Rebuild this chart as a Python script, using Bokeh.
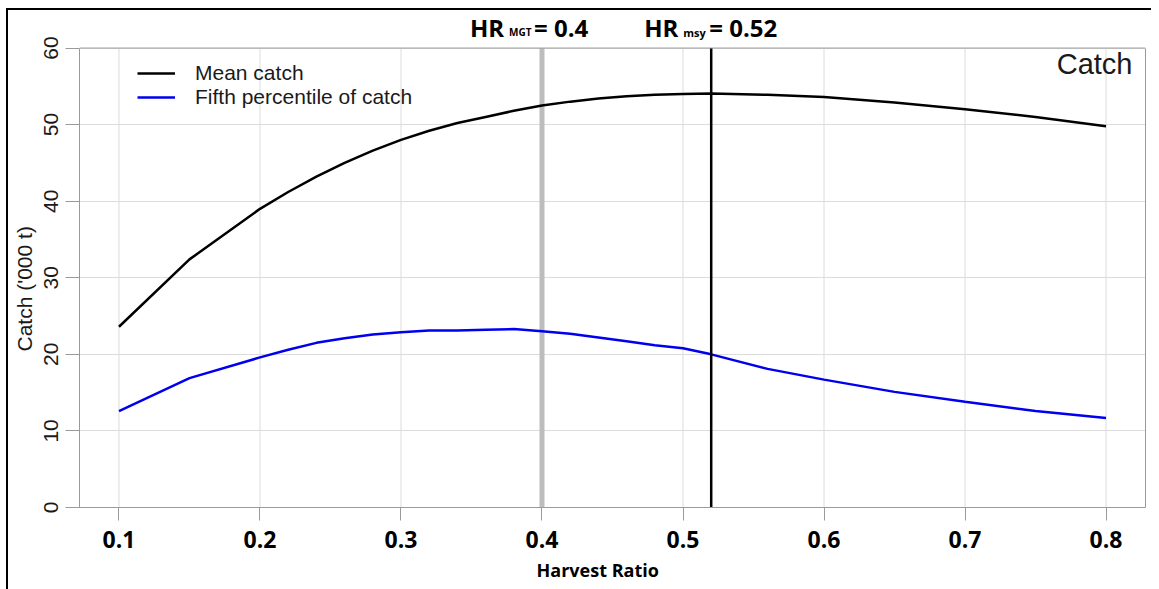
from bokeh.plotting import figure
from bokeh.models import Span, Label, Legend, LegendItem, FixedTicker, Range1d, LinearAxis, Title
from bokeh.embed import file_html
from bokeh.resources import INLINE

# ---- data ----
harvest_ratio = [0.10, 0.15, 0.20, 0.22, 0.24, 0.26, 0.28, 0.30, 0.32, 0.34, 0.36, 0.38,
                 0.40, 0.42, 0.44, 0.46, 0.48, 0.50, 0.52, 0.56, 0.60, 0.65, 0.70, 0.75, 0.80]
mean_catch = [23.6, 32.4, 39.0, 41.2, 43.2, 45.0, 46.6, 48.0, 49.2, 50.2, 51.0, 51.8,
              52.5, 53.0, 53.4, 53.7, 53.9, 54.0, 54.05, 53.9, 53.6, 52.9, 52.0, 51.0, 49.8]
fifth_pct_catch = [12.6, 16.9, 19.6, 20.6, 21.5, 22.1, 22.6, 22.9, 23.1, 23.1, 23.2, 23.3,
                   23.0, 22.7, 22.2, 21.7, 21.2, 20.8, 20.0, 18.1, 16.7, 15.1, 13.8, 12.6, 11.7]
x_ticks = [0.1, 0.2, 0.3, 0.4, 0.5, 0.6, 0.7, 0.8]
y_ticks = [0, 10, 20, 30, 40, 50, 60]
hr_mgt = 0.4
hr_msy = 0.52

# ---- layout constants (pixels) ----
W, H = 1151, 589
FRAME_L, FRAME_R, BOX_TOP, FRAME_B = 79, 1145, 48, 512
x_pad = 0.04 * (x_ticks[-1] - x_ticks[0])
y_lo, y_hi = y_ticks[0], y_ticks[-1]
# the frame reaches the canvas top so the annotations above the box are not clipped
y_top = y_lo + (y_hi - y_lo) * FRAME_B / (FRAME_B - BOX_TOP)

SANS = "Liberation Sans"
BOLD = "Open Sans"
GRAY = "#9a9a9a"
GRID = "#dcdcdc"
TXT = "#1a1a1a"

p = figure(width=W, height=H, output_backend="svg", toolbar_location=None,
           x_range=Range1d(x_ticks[0] - x_pad, x_ticks[-1] + x_pad),
           y_range=Range1d(y_lo, y_top),
           min_border_left=FRAME_L, min_border_right=W - FRAME_R,
           min_border_top=0, min_border_bottom=H - FRAME_B,
           background_fill_color=None, border_fill_color=None)
p.outline_line_color = None
p.styles = {
    "background-image": "linear-gradient(#000, #000), linear-gradient(#000, #000)",
    "background-size": "2px 100%, 100% 2px",
    "background-position": "6px 8px, 6px 8px",
    "background-repeat": "no-repeat",
}

# grid: horizontal lines from the grid model, vertical lines limited to the box
p.xgrid.visible = False
p.ygrid.ticker = FixedTicker(ticks=y_ticks)
p.ygrid.grid_line_color = GRID
p.segment(x0=x_ticks, y0=[y_lo] * len(x_ticks), x1=x_ticks, y1=[y_hi] * len(x_ticks),
          line_color=GRID, line_width=1)

# axes
p.xaxis.ticker = FixedTicker(ticks=x_ticks)
p.xaxis.major_tick_out = 13
p.xaxis.major_label_standoff = 10
p.xaxis.major_label_text_font = BOLD
p.xaxis.major_label_text_font_style = "bold"
p.xaxis.major_label_text_font_size = "23px"
p.xaxis.major_label_text_color = "black"

p.yaxis.ticker = FixedTicker(ticks=y_ticks)
p.yaxis.bounds = (y_lo, y_hi)
p.yaxis.major_tick_out = 14
p.yaxis.major_label_standoff = 8
p.yaxis.major_label_orientation = "vertical"
p.yaxis.major_label_text_font = SANS
p.yaxis.major_label_text_font_size = "21px"
p.yaxis.major_label_text_color = TXT

for ax in (p.xaxis, p.yaxis):
    ax.axis_line_color = GRAY
    ax.major_tick_line_color = GRAY
    ax.major_tick_in = 0
    ax.minor_tick_line_color = None

# right side of the box
right_axis = LinearAxis(ticker=FixedTicker(ticks=[]), bounds=(y_lo, y_hi),
                        axis_line_color=GRAY, major_tick_out=0, major_tick_in=0,
                        minor_tick_line_color=None)
p.add_layout(right_axis, "right")
# top side of the box
p.add_layout(Span(location=y_hi, dimension="width", line_color=GRAY, line_width=1))

# axis titles
p.add_layout(Title(text="Catch ('000 t)", align="left", offset=156, vertical_align="top",
                   standoff=6, text_font=SANS, text_font_style="normal",
                   text_font_size="21px", text_color=TXT), "left")
p.add_layout(Title(text="Harvest Ratio", align="left", offset=457, vertical_align="middle",
                   standoff=13, text_font=BOLD, text_font_style="bold",
                   text_font_size="18px", text_color="black"), "below")

# reference harvest ratios
p.segment(x0=[hr_mgt], y0=[y_lo], x1=[hr_mgt], y1=[y_hi], line_color="#bdbdbd", line_width=5)

# series
r_mean = p.line(harvest_ratio, mean_catch, line_color="black", line_width=2.5)
r_fifth = p.line(harvest_ratio, fifth_pct_catch, line_color="#0000ee", line_width=2.5)

p.segment(x0=[hr_msy], y0=[y_lo], x1=[hr_msy], y1=[y_hi], line_color="black", line_width=2.5)

legend = Legend(items=[LegendItem(label="Mean catch", renderers=[r_mean]),
                       LegendItem(label="Fifth percentile of catch", renderers=[r_fifth])],
                location=(58, 398), padding=0, margin=0, spacing=0,
                glyph_width=38, glyph_height=24, label_height=24, label_standoff=20,
                label_text_font=SANS, label_text_font_size="21px", label_text_color=TXT,
                label_text_baseline="middle",
                border_line_color=None, background_fill_alpha=0)
p.add_layout(legend)

# panel title
p.add_layout(Label(x=x_ticks[-1] + x_pad, y=y_hi, x_offset=-13, y_offset=-16, text="Catch",
                   text_align="right", text_baseline="alphabetic",
                   text_font=SANS, text_font_size="29px", text_color=TXT))

# HR annotations above the box
def hr_label(xloc, parts):
    for txt, off, dy, size in parts:
        p.add_layout(Label(x=xloc, y=y_hi, x_offset=off, y_offset=dy, text=txt,
                           text_align="left", text_baseline="alphabetic",
                           text_font=BOLD, text_font_style="bold", text_font_size=size,
                           text_color="black"))

hr_label(hr_mgt, [("HR", -72, 21, "24px"), ("MGT", -33, 16, "10px"), ("= 0.4", -8, 21, "24px")])
hr_label(hr_msy, [("HR", -67, 21, "24px"), ("msy", -28, 16, "11px"), ("= 0.52", -2, 21, "24px")])

open("out.html", "w").write(file_html(p, INLINE))
